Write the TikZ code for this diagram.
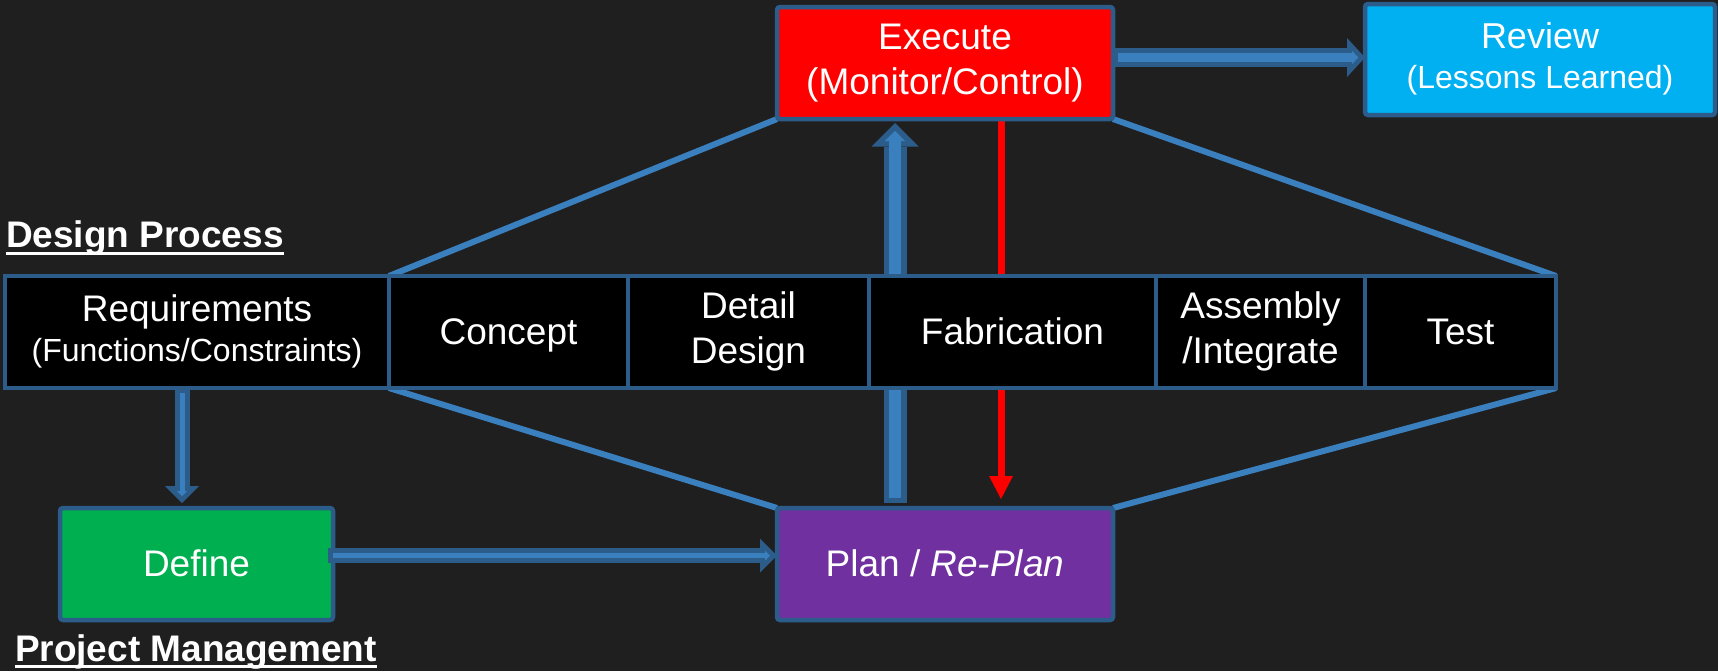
\documentclass[tikz,border=0pt]{standalone}
\usepackage{fontspec}
\setmainfont{Liberation Sans}
\usetikzlibrary{arrows.meta}
\pgfdeclarelayer{canvas}
\pgfdeclarelayer{links}
\pgfsetlayers{canvas,links,main}

\definecolor{bg}{HTML}{201F20}
\definecolor{edge}{HTML}{2C5D8A}
\definecolor{link}{HTML}{3A80BF}
\definecolor{execred}{HTML}{FF0000}
\definecolor{reviewblue}{HTML}{00B0F0}
\definecolor{definegreen}{HTML}{00B050}
\definecolor{planpurple}{HTML}{7030A0}

\newcommand{\mainsize}{\fontsize{18.5pt}{22.5pt}\selectfont}
\newcommand{\subsize}{\fontsize{16pt}{20pt}\selectfont}
% struts giving each text block the full ascent/descent of the font,
% so that it is centred in its box by its line boxes
\newcommand{\ascentstrut}{\rule{0pt}{0.905em}}
\newcommand{\descentstrut}{\rule[-0.212em]{0pt}{0pt}}

\begin{document}
\begin{tikzpicture}[x=0.5pt, y=-0.5pt,
  box/.style={draw=edge, line width=2.25pt, inner sep=0pt, outer sep=0pt,
    minimum height=56pt, align=center, text=white, font=\mainsize,
    execute at begin node=\ascentstrut, execute at end node=\descentstrut},
  cell/.style={box, fill=black},
  tile/.style={box, rounded corners=1.5pt},
  heading/.style={anchor=base west, inner sep=0pt, outer sep=0pt, text=white,
    font=\bfseries\mainsize},
  underbar/.style={white, line width=1.5pt},
  diag/.style={link, line width=3pt},
  % outlined block arrows: a dark body with a lighter core on top
  pipe/.style={edge, line width=7.5pt,
    -{Triangle[length=8.5pt, width=17pt, line width'=0pt]}},
  pipecore/.style={link, line width=2.5pt, shorten <=2.5pt, shorten >=3.5pt,
    -{Triangle[length=2.5pt, width=5pt, line width'=0pt]}},
  widepipe/.style={edge, line width=9.25pt,
    -{Triangle[length=9pt, width=19.5pt, line width'=0pt]}},
  widepipecore/.style={link, line width=4.25pt, shorten <=2.5pt, shorten >=3.4pt,
    -{Triangle[length=3.1pt, width=6.7pt, line width'=0pt]}},
  bigpipe/.style={edge, line width=11.5pt, shorten <=2.5pt, shorten >=2pt,
    -{Triangle[length=11.75pt, width=23.5pt, line width'=0pt]}},
  bigpipecore/.style={link, line width=6pt, shorten <=5.25pt, shorten >=5.9pt,
    -{Triangle[length=5.1pt, width=10.2pt, line width'=0pt]}},
  redlink/.style={execred, line width=3.5pt, shorten >=4.5pt,
    -{Triangle[length=11.5pt, width=12pt, line width'=0pt]}}
]
\begin{pgfonlayer}{canvas}
  \fill[bg] (0,0) rectangle (1718,671);
\end{pgfonlayer}

% phase boxes
\node[tile, fill=execred, minimum width=168pt] (exec) at (945,63)
  {Execute\\(Monitor/Control)};
\node[tile, fill=reviewblue, minimum width=175pt, minimum height=55.5pt,
  font=\fontsize{18pt}{20pt}\selectfont] (rev) at (1540,59.5)
  {Review\\{\subsize(Lessons Learned)}};
\node[tile, fill=definegreen, minimum width=136.5pt] (def) at (196.5,564) {Define};
\node[tile, fill=planpurple, minimum width=168pt] (plan) at (945,564)
  {Plan / \textit{Re-Plan}};

% design process row
\node[cell, minimum width=192pt, font=\fontsize{18.5pt}{20pt}\selectfont] (req) at (197,332)
  {Requirements\\{\subsize(Functions/Constraints)}};
\node[cell, minimum width=119.5pt] (con) at (508.5,332) {Concept};
\node[cell, minimum width=120.5pt] (det) at (748.5,332) {Detail\\Design};
\node[cell, minimum width=143.5pt] (fab) at (1012.5,332) {Fabrication};
\node[cell, minimum width=104.5pt] (asm) at (1260.5,332) {Assembly\\/Integrate};
\node[cell, minimum width=95.5pt] (tst) at (1460.5,332) {Test};

% headings
\node[heading] (dp) at (6,247) {Design Process};
\draw[underbar] ([yshift=-3.25pt]dp.base west) -- ([yshift=-3.25pt]dp.base east);
\node[heading] (pm) at (15,661) {Project Management};
\draw[underbar] ([yshift=-2.75pt]pm.base west) -- ([yshift=-2.75pt]pm.base east);

% Define -> Plan, over the edge of the Define box
\draw[pipe] ([yshift=4.25pt,xshift=-2.5pt]def.east) -- ([yshift=4.25pt]def.east -| plan.west);
\draw[pipecore] ([yshift=4.25pt,xshift=-2.5pt]def.east) -- ([yshift=4.25pt]def.east -| plan.west);

\begin{pgfonlayer}{links}
  % funnel outline
  \draw[diag] (exec.south west) -- (req.north east);
  \draw[diag] (exec.south east) -- (tst.north east);
  \draw[diag] (req.south east) -- (plan.north west);
  \draw[diag] (tst.south east) -- (plan.north east);

  % Requirements -> Define
  \draw[pipe, shorten >=2.5pt] ([xshift=-7.5pt]req.south) -- ([xshift=-7.5pt]req.south |- def.north);
  \draw[pipecore, shorten >=6pt] ([xshift=-7.5pt]req.south) -- ([xshift=-7.5pt]req.south |- def.north);

  % Plan -> Execute
  \draw[bigpipe] ([xshift=-25pt]plan.north) -- ([xshift=-25pt]exec.south);
  \draw[bigpipecore] ([xshift=-25pt]plan.north) -- ([xshift=-25pt]exec.south);

  % Execute -> Plan (re-plan)
  \draw[redlink] ([xshift=28pt]exec.south) -- ([xshift=28pt]plan.north);

  % Execute -> Review
  \draw[widepipe] ([yshift=2.75pt]exec.east) -- ([yshift=2.75pt]exec.east -| rev.west);
  \draw[widepipecore] ([yshift=2.75pt]exec.east) -- ([yshift=2.75pt]exec.east -| rev.west);
\end{pgfonlayer}
\end{tikzpicture}
\end{document}
